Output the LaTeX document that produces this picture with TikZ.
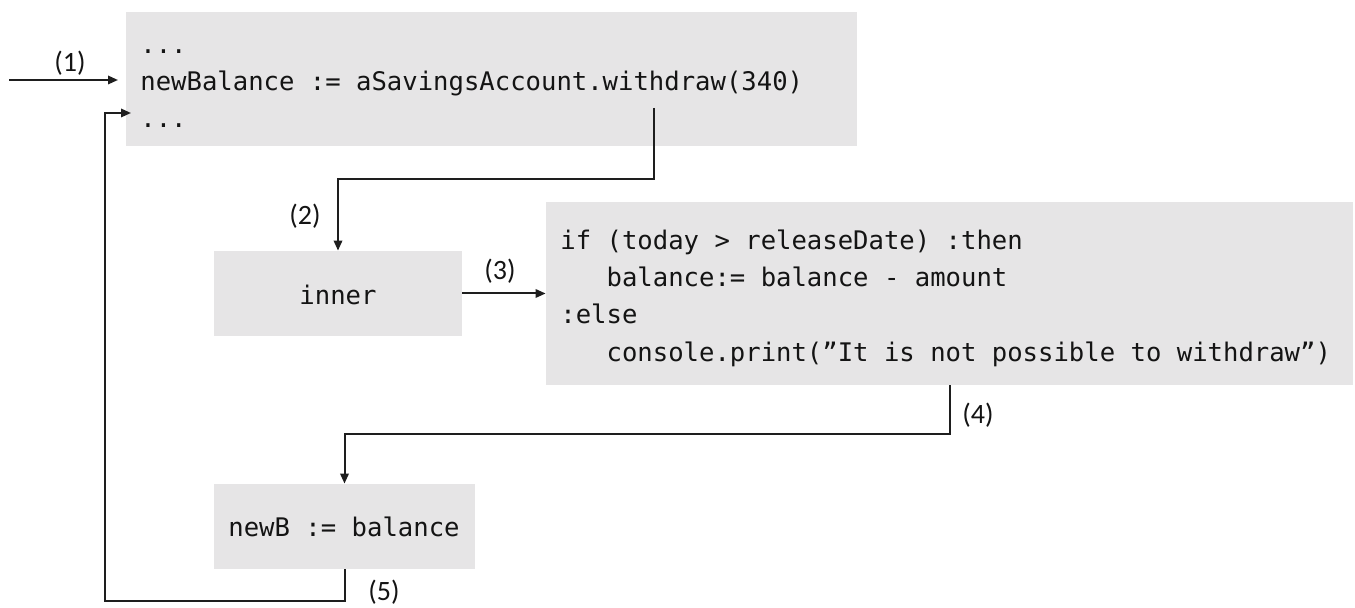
\documentclass[tikz,border=0pt]{standalone}
\usepackage{fontspec}
\setmainfont{Carlito}
\newfontfamily\codefont{DejaVu Sans Mono}
\usetikzlibrary{arrows.meta}

\definecolor{panelgray}{HTML}{E6E5E6}
\definecolor{inkline}{HTML}{1E1E1E}

\begin{document}
\begin{tikzpicture}[x=0.5pt,y=-0.5pt,
  panel/.style={fill=panelgray, draw=none, inner sep=0pt},
  code/.style={font=\codefont\fontsize{12.8pt}{15pt}\selectfont, text=black!92, inner sep=0pt},
  steplabel/.style={font=\fontsize{14pt}{16pt}\selectfont, text=black!92, inner sep=0pt},
  flow/.style={draw=inkline, line width=1pt, -{Triangle[length=5pt,width=4.2pt]}}
]
\useasboundingbox (0,0) rectangle (1355,608);

% code panels
\node[panel, minimum width=365.5pt, minimum height=67pt] (caller) at (491.5,79) {};
\node[panel, minimum width=124pt, minimum height=42.5pt] (inner) at (338,293.5) {};
\node[panel, minimum width=403.5pt, minimum height=91.5pt] (body) at (949.5,293.5) {};
\node[panel, minimum width=130.5pt, minimum height=42.5pt] (assign) at (344.5,526.5) {};

% caller code
\node[code, anchor=base west] (c1) at (140,54) {...};
\node[code, anchor=base west] (c2) at (140,91) {newBalance := aSavingsAccount.withdraw(340)};
\node[code, anchor=base west] (c3) at (140,128) {...};

% inner / assignment text
\node[code, anchor=base] (innertxt) at (338,305) {inner};
\node[code, anchor=base] (assigntxt) at (344,537) {newB := balance};

% method body
\node[code, anchor=base west] (m1) at (560,250) {if (today > releaseDate) :then};
\node[code, anchor=base west] (m2) at (560,287) {\ \ \ balance:= balance - amount};
\node[code, anchor=base west] (m3) at (560,324) {:else};
\node[code, anchor=base west] (m4) at (560,362) {\ \ \ console.print(”It is not possible to withdraw”)};

% connector end points
\coordinate (entry) at (9,80);
\coordinate (entrytip) at (118,80);
\coordinate (callout) at (654,108);
\coordinate (turn2) at (654,179);
\coordinate (turn4) at (949.5,434);
\coordinate (retcorner) at (105,601);
\coordinate (rettip) at (131,113);

% flow of control
\draw[flow] (entry) -- (entrytip);
\draw[flow] (callout) -- (turn2) -| (inner.north);
\draw[flow] (inner.east) -- (body.west);
\draw[flow] (body.south) -- (turn4) -| (assign.north);
\draw[flow] (assign.south) |- (retcorner) |- (rettip);

% step labels
\node[steplabel] (l1) at (70,63) {(1)};
\node[steplabel] (l2) at (305,216) {(2)};
\node[steplabel] (l3) at (500,271) {(3)};
\node[steplabel] (l4) at (978,415) {(4)};
\node[steplabel] (l5) at (384,592) {(5)};
\end{tikzpicture}
\end{document}
